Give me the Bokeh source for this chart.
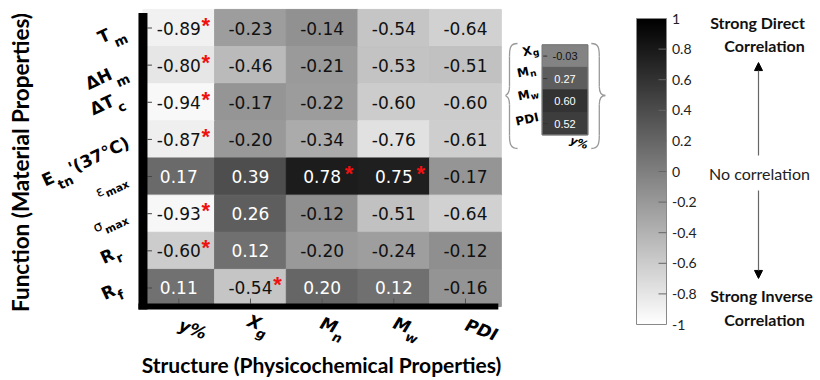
import math
import numpy as np
from bokeh.plotting import figure
from bokeh.layouts import row
from bokeh.models import ColumnDataSource, LinearColorMapper, Range1d, Arrow, NormalHead
from bokeh.transform import transform
from bokeh.core.properties import value
from bokeh.embed import file_html
from bokeh.resources import INLINE

# ------------------------------------------------------------------ data
structure_labels = ["y%", "Xg", "Mn", "Mw", "PDI"]
function_labels = ["Tm", "ΔHm", "ΔTc", "Etn'(37°C)", "εmax", "σmax", "Rr", "Rf"]

r_Tm = [-0.89, -0.23, -0.14, -0.54, -0.64]
r_dHm = [-0.80, -0.46, -0.21, -0.53, -0.51]
r_dTc = [-0.94, -0.17, -0.22, -0.60, -0.60]
r_Etn = [-0.87, -0.20, -0.34, -0.76, -0.61]
r_emax = [0.17, 0.39, 0.78, 0.75, -0.17]
r_smax = [-0.93, 0.26, -0.12, -0.51, -0.64]
r_Rr = [-0.60, 0.12, -0.20, -0.24, -0.12]
r_Rf = [0.11, -0.54, 0.20, 0.12, -0.16]
correlations = [r_Tm, r_dHm, r_dTc, r_Etn, r_emax, r_smax, r_Rr, r_Rf]

significant_function = ["Tm", "ΔHm", "ΔTc", "Etn'(37°C)", "εmax", "εmax", "σmax", "Rr", "Rf"]
significant_structure = ["y%", "y%", "y%", "y%", "Mn", "Mw", "y%", "y%", "Xg"]

inset_labels = ["Xg", "Mn", "Mw", "PDI"]
inset_r_vs_yield = [-0.03, 0.27, 0.60, 0.52]

colorbar_ticks = [-1, -0.8, -0.6, -0.4, -0.2, 0, 0.2, 0.4, 0.6, 0.8, 1]

# typography of the labels: (main, subscript, tail)
function_parts = {"Tm": ("T", "m", ""), "ΔHm": ("ΔH", "m", ""), "ΔTc": ("ΔT", "c", ""),
                  "Etn'(37°C)": ("E", "tn", "'(37°C)"), "εmax": ("ε", "max", ""),
                  "σmax": ("σ", "max", ""), "Rr": ("R", "r", ""), "Rf": ("R", "f", "")}
structure_parts = {"y%": ("y%", "", ""), "Xg": ("X", "g", ""), "Mn": ("M", "n", ""),
                   "Mw": ("M", "w", ""), "PDI": ("PDI", "", "")}

# ------------------------------------------------------------------ styling / layout
W_MAIN, W_INSET, W_CBAR, H = 505, 123, 192, 380
CW, CH = 71.67, 37.14          # main cell size (px)
X0, Y0 = 178.3, 27.5           # pixel centre of first main cell
ICW, ICH = 45.6, 22.5          # inset cell size
IX0, IY0 = 59.5, 55.6          # pixel centre of first inset cell (inside inset figure)

palette = ["#%02x%02x%02x" % (g, g, g) for g in np.linspace(255, 0, 256).astype(int)]
mapper = LinearColorMapper(palette=palette, low=-1, high=1)

SUB_W = {"t": .478, "n": .712, "m": 1.042, "a": .675, "x": .712, "g": .716,
         "c": .593, "r": .493, "f": .435, "w": .924}


def base_fig(w, xr, yr):
    p = figure(width=w, height=H, x_range=xr, y_range=yr, toolbar_location=None,
               output_backend="svg", min_border=0, x_axis_location=None,
               y_axis_location=None, outline_line_color=None, tools="")
    p.grid.visible = False
    p.background_fill_color = "white"
    p.border_fill_color = "white"
    return p


def style(font, size, weight="bold", color="black"):
    return dict(text_font=value(font), text_font_size=size, text_font_style=weight,
                text_color=color)


def place_label(p, x, y, parts, deg, sx, sy, main_st, sub_st, sub_px, a, b):
    th = math.radians(deg)
    d = (math.cos(th), -math.sin(th))
    n = (math.sin(th), math.cos(th))

    def at(u, v):
        return x + (u * d[0] + v * n[0]) / sx, y + (u * d[1] + v * n[1]) / sy

    main, sub, tail = parts
    p.text(x=[x], y=[y], text=[main], angle=th, text_align="right",
           text_baseline="middle", **main_st)
    if sub:
        qx, qy = at(a, b)
        p.text(x=[qx], y=[qy], text=[sub], angle=th, text_align="left",
               text_baseline="middle", **sub_st)
    if tail:
        wsub = sum(SUB_W.get(ch, .6) for ch in sub) * sub_px
        qx, qy = at(a + wsub + 1, 0)
        p.text(x=[qx], y=[qy], text=[tail], angle=th, text_align="left",
               text_baseline="middle", **main_st)


# ------------------------------------------------------------------ main heatmap
pm = base_fig(W_MAIN, Range1d(-X0 / CW, (W_MAIN - X0) / CW),
              Range1d((H - Y0) / CH, -Y0 / CH))

xs, ys, vs, labs, tcs = [], [], [], [], []
for i, rvals in enumerate(correlations):
    for j, v in enumerate(rvals):
        xs.append(j); ys.append(i); vs.append(v)
        labs.append("%.2f" % v)
        tcs.append("#ffffff" if v > 0 else "#111111")
src = ColumnDataSource(dict(x=xs, y=ys, v=vs, lab=labs, tc=tcs))
pm.rect(x="x", y="y", width=1, height=1, source=src, fill_color=transform("v", mapper),
        line_color=transform("v", mapper), line_width=1)
pm.text(x="x", y="y", text="lab", source=src, text_color="tc", text_align="center",
        text_baseline="middle", text_font=value("DejaVu Sans"), text_font_size="17px")

sx_ = [structure_labels.index(s) + 27 / CW for s in significant_structure]
sy_ = [function_labels.index(f) - 3 / CH for f in significant_function]
pm.text(x=sx_, y=sy_, text=["*"] * len(sx_), text_align="center", text_baseline="middle",
        **style("Liberation Sans", "22px", "bold", "#ee1111"))

nr, nc = len(function_labels), len(structure_labels)
left, bottom = -0.5, nr - 0.5
# ticks
pm.segment(x0=[left + 4.5 / CW] * nr, x1=[left + 9 / CW] * nr, y0=list(range(nr)),
           y1=list(range(nr)), line_color="#444444", line_width=1)
pm.segment(x0=list(range(nc)), x1=list(range(nc)), y0=[bottom - 3 / CH] * nc,
           y1=[bottom - 8 / CH] * nc, line_color="#555555", line_width=1)
# thick axis lines
pm.segment(x0=[left], x1=[left], y0=[-0.5 + 3.5 / CH], y1=[bottom + 3 / CH],
           line_color="black", line_width=9)
pm.segment(x0=[left - 4.5 / CW], x1=[nc - 0.5 - 3 / CW], y0=[bottom], y1=[bottom],
           line_color="black", line_width=6)

# row labels (rotated, with subscripts)
row_dx = [-33.8, -32.0, -29.8, -89.7, -40.0, -41.4, -30.0, -29.0]
row_dy = [5.5, 7.9, -2.6, 37.1, 13.3, 10.7, 2.5, 1.3]
row_drop = [11.5, 12, 10, 10.5, 4.5, 7, 7, 8]
for i, f in enumerate(function_labels):
    parts = function_parts[f]
    greek = parts[0] in ("ε", "σ")
    mst = style("DejaVu Sans", "14px", "normal") if greek else style("DejaVu Sans", "17px")
    sst = style("DejaVu Sans", "10.5px") if greek else style("DejaVu Sans", "13px")
    place_label(pm, left + row_dx[i] / CW, i + row_dy[i] / CH, parts, 25, CW, CH,
                mst, sst, 13, 1, row_drop[i])

# column labels
col_j = [(27.2, 27.3), (10.2, 17.7), (14.7, 21.3), (16.1, 21.3), (31.5, 28.9)]
for j, s in enumerate(structure_labels):
    place_label(pm, j + col_j[j][0] / CW, bottom + col_j[j][1] / CH, structure_parts[s],
                -20, CW, CH, style("DejaVu Sans", "17px", "bold italic"),
                style("DejaVu Sans", "13px", "bold italic"), 13, -1, 9)

# axis titles
pm.text(x=[(20 - X0) / CW], y=[(162 - Y0) / CH], text=["Function (Material Properties)"],
        angle=math.pi / 2, text_align="center", text_baseline="middle",
        **style("Lato", "22.5px"))
pm.text(x=[(321 - X0) / CW], y=[(364 - Y0) / CH],
        text=["Structure (Physicochemical Properties)"], text_align="center",
        text_baseline="middle", **style("Lato", "21px"))

# ------------------------------------------------------------------ inset
pi_ = base_fig(W_INSET, Range1d(-IX0 / ICW, (W_INSET - IX0) / ICW),
               Range1d((H - IY0) / ICH, -IY0 / ICH))
ni = len(inset_labels)
isrc = ColumnDataSource(dict(x=[0] * ni, y=list(range(ni)), v=inset_r_vs_yield,
                             lab=["%.2f" % v for v in inset_r_vs_yield],
                             tc=["#ffffff" if v > 0 else "#111111" for v in inset_r_vs_yield]))
pi_.rect(x="x", y="y", width=1, height=1, source=isrc, fill_color=transform("v", mapper),
         line_color=transform("v", mapper), line_width=1)
pi_.rect(x=[0], y=[(ni - 1) / 2], width=1, height=ni, fill_color=None, line_color="#777777",
         line_width=1)
pi_.text(x="x", y="y", text="lab", source=isrc, text_color="tc", text_align="center",
         text_baseline="middle", text_font=value("Liberation Sans"), text_font_size="11px")
pi_.segment(x0=[-0.5 + 1 / ICW] * ni, x1=[-0.5 + 5 / ICW] * ni, y0=list(range(ni)),
            y1=list(range(ni)), line_color="#333333", line_width=1)
inset_j = [(-10.5, -5.7), (-13.3, -7.4), (-12.5, -7.1), (-3.7, -6.6)]
for i, s in enumerate(inset_labels):
    place_label(pi_, -0.5 + inset_j[i][0] / ICW, i + inset_j[i][1] / ICH, structure_parts[s],
                12, ICW, ICH, style("DejaVu Sans", "12px"), style("DejaVu Sans", "9px"),
                9, 0.5, 3)
pi_.text(x=[5.5 / ICW], y=[ni - 0.5 + 5 / ICH], text=["y%"], angle=math.radians(-20),
         text_align="left", text_baseline="middle",
         **style("DejaVu Sans", "11px", "bold italic"))


def ipt(xi, yi):
    return (xi - W_MAIN - IX0) / ICW, (yi - IY0) / ICH


brace = [((517, 43), (510, 43), (509, 47), (509, 56)),
         ((509, 56), (509, 66), (509, 76), (509, 86)),
         ((509, 86), (509, 92), (507, 95), (503, 95)),
         ((503, 95), (507, 95), (509, 98), (509, 104)),
         ((509, 104), (509, 114), (509, 125), (509, 135)),
         ((509, 135), (509, 143), (510, 148), (517, 148))]
for mirror in (False, True):
    bx = {k: [] for k in ("x0", "y0", "x1", "y1", "cx0", "cy0", "cx1", "cy1")}
    for (p0, c0, c1, p1) in brace:
        pts = [p0, p1, c0, c1]
        if mirror:
            pts = [(1107.8 - q[0], q[1]) for q in pts]
        conv = [ipt(*q) for q in pts]
        bx["x0"].append(conv[0][0]); bx["y0"].append(conv[0][1])
        bx["x1"].append(conv[1][0]); bx["y1"].append(conv[1][1])
        bx["cx0"].append(conv[2][0]); bx["cy0"].append(conv[2][1])
        bx["cx1"].append(conv[3][0]); bx["cy1"].append(conv[3][1])
    pi_.bezier(source=ColumnDataSource(bx), x0="x0", y0="y0", x1="x1", y1="y1",
               cx0="cx0", cy0="cy0", cx1="cx1", cy1="cy1", line_color="#999999",
               line_width=1.3)

# ------------------------------------------------------------------ colour bar
VPX = 153.0
V0 = 171.0
pc = base_fig(W_CBAR, Range1d(0, W_CBAR), Range1d((V0 - H) / VPX, V0 / VPX))
grad = np.linspace(-1, 1, 256).reshape(-1, 1)
pc.image(image=[grad], x=8, y=-1, dw=30, dh=2, color_mapper=mapper)
pc.quad(left=[8], right=[38], bottom=[-1], top=[1], fill_color=None, line_color="#888888",
        line_width=1)
inner = colorbar_ticks[1:-1]
pc.segment(x0=[30] * len(inner), x1=[38] * len(inner), y0=inner, y1=inner,
           line_color="#666666", line_width=1)
pc.text(x=[43.5] * len(colorbar_ticks), y=colorbar_ticks,
        text=["%g" % t for t in colorbar_ticks], text_align="left", text_baseline="middle",
        **style("Lato", "14px", "normal", "#222222"))

pc.text(x=[129, 136], y=[0.977, 0.8235], text=["Strong Direct", "Correlation"],
        text_align="center", text_baseline="middle", **style("Lato", "16px", "bold", "#111111"))
pc.text(x=[131], y=[-0.016], text=["No correlation"], text_align="center",
        text_baseline="middle", **style("Lato", "16px", "normal", "#222222"))
pc.text(x=[133, 136], y=[-0.81, -0.97], text=["Strong Inverse", "Correlation"],
        text_align="center", text_baseline="middle", **style("Lato", "16px", "bold", "#111111"))
pc.add_layout(Arrow(end=NormalHead(size=8, fill_color="black", line_color="black"),
                    x_start=130, y_start=0.105, x_end=130, y_end=0.712,
                    line_color="#666666", line_width=1.2))
pc.add_layout(Arrow(end=NormalHead(size=8, fill_color="black", line_color="black"),
                    x_start=130, y_start=-0.124, x_end=130, y_end=-0.699,
                    line_color="#666666", line_width=1.2))

layout = row(pm, pi_, pc, spacing=0)
open("out.html", "w").write(file_html(layout, INLINE))
